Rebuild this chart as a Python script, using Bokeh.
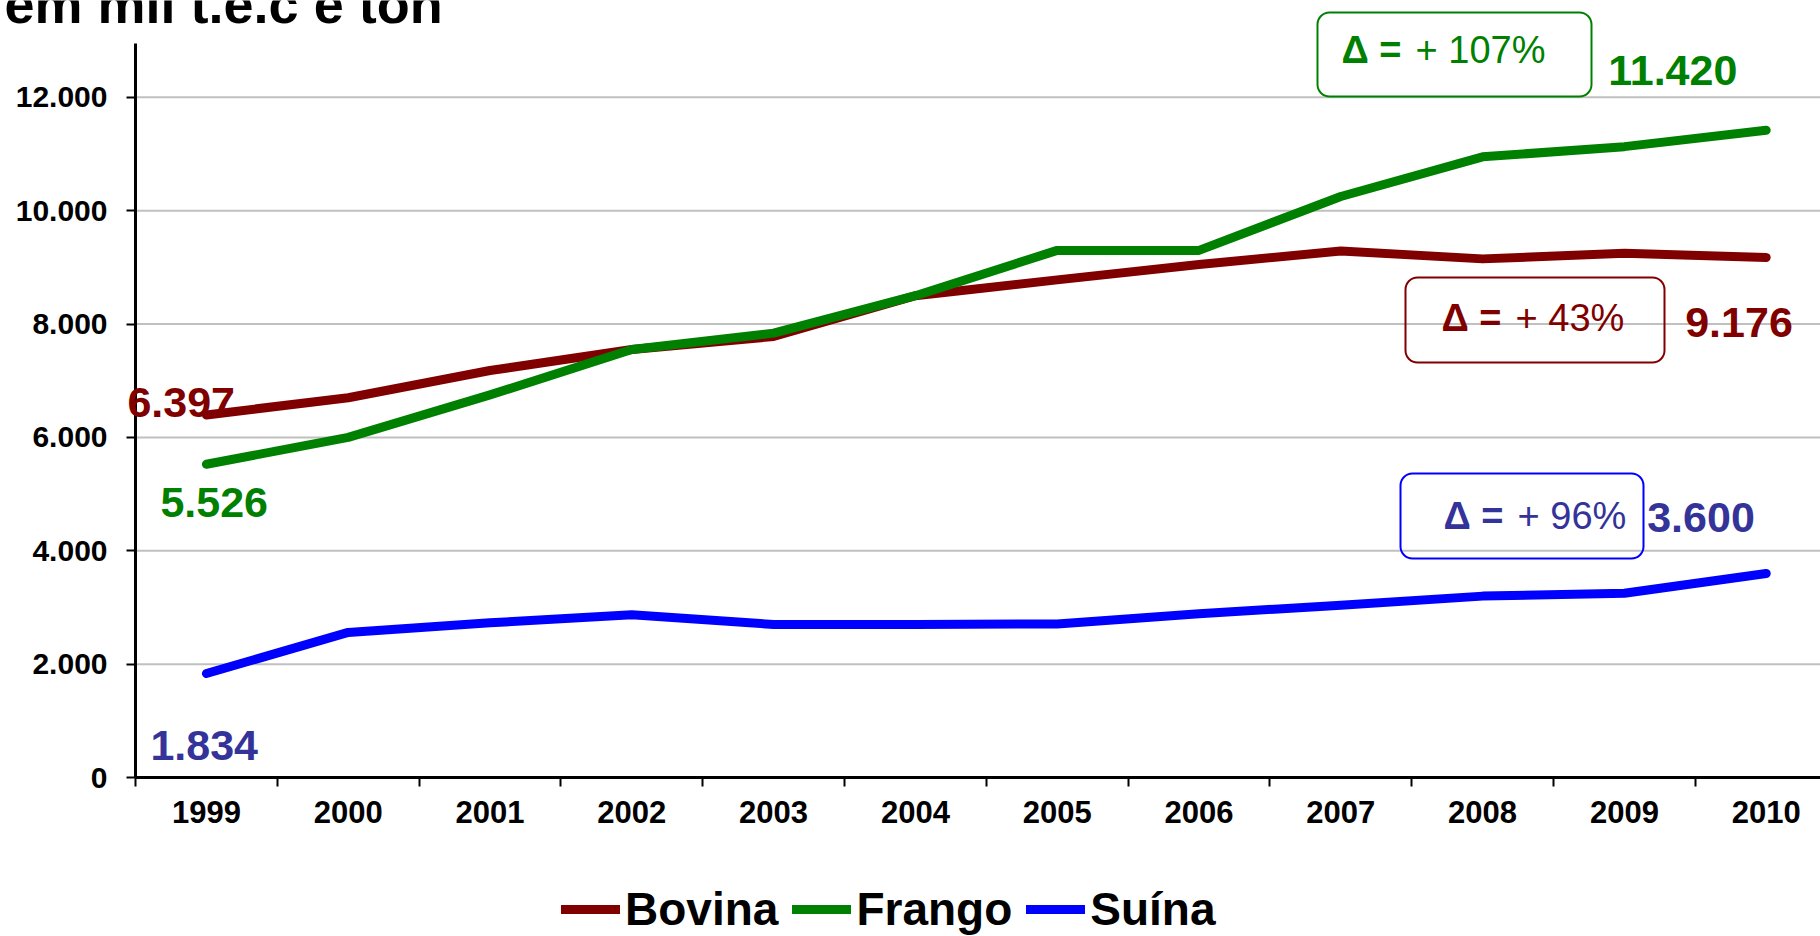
from bokeh.plotting import figure
from bokeh.models import (FixedTicker, Label, BoxAnnotation, Legend, LegendItem, Range1d)
from bokeh.embed import file_html
from bokeh.resources import INLINE

# ---------------- data ----------------
years = ["1999", "2000", "2001", "2002", "2003", "2004",
         "2005", "2006", "2007", "2008", "2009", "2010"]
bovina = [6397, 6700, 7180, 7550, 7780, 8500, 8780, 9050, 9290, 9150, 9250, 9176]
frango = [5526, 6000, 6750, 7550, 7840, 8500, 9300, 9300, 10250, 10950, 11130, 11420]
suina = [1834, 2560, 2730, 2870, 2700, 2700, 2710, 2890, 3040, 3200, 3250, 3600]
series_names = ["Bovina", "Frango", "Suína"]
y_ticks = [0, 2000, 4000, 6000, 8000, 10000, 12000]
title_text = "em mil t.e.c e ton"

# ---------------- layout (page pixels) ----------------
FONT = "Liberation Sans"
W, H = 1820, 936
AX_LEFT = 135        # page x of y-axis line
AX_BOTTOM = 777      # page y of x-axis line
AX_TOP = 43          # page y of top of y-axis line
PX_X = 141.8                # pixels per category
PX_Y = 113.36 / 2000.0      # pixels per unit


def px2x(px):
    return -0.5 + (px - AX_LEFT) / PX_X


def px2y(py):
    return (AX_BOTTOM - py) / PX_Y


def fmt(v):
    return f"{v:,}".replace(",", ".")


idx = list(range(len(years)))
X_START, X_END = px2x(0), px2x(W)
Y_START, Y_END = px2y(H), px2y(0)

p = figure(width=W, height=H, x_range=Range1d(X_START, X_END), y_range=Range1d(Y_START, Y_END),
           output_backend="svg", toolbar_location=None,
           min_border_left=0, min_border_right=0, min_border_top=0, min_border_bottom=0)
p.outline_line_color = None
p.background_fill_color = "white"
p.border_fill_color = "white"
p.xgrid.visible = False
p.ygrid.visible = False

colors = ["#800000", "#008000", "#0000FF"]
label_colors = ["#800000", "#008000", "#333399"]
series = [bovina, frango, suina]

# horizontal gridlines from the axis to the right edge
grid_ticks = y_ticks[1:]
p.segment(x0=[-0.5] * len(grid_ticks), x1=[X_END] * len(grid_ticks),
          y0=grid_ticks, y1=grid_ticks, line_color="#C0C0C0", line_width=2)

renderers = []
for s, c in zip(series, colors):
    renderers.append(p.line(idx, s, line_color=c, line_width=9, line_join="round", line_cap="round"))

# axes (drawn at fixed locations inside the frame)
xa = p.xaxis[0]
xa.fixed_location = 0
xa.bounds = (-0.5, X_END)
xa.ticker = FixedTicker(ticks=idx, minor_ticks=[i - 0.5 for i in range(len(years) + 1)])
xa.major_label_overrides = {i: y for i, y in zip(idx, years)}
xa.major_tick_out = 0
xa.major_tick_in = 0
xa.minor_tick_out = 9
xa.minor_tick_in = 0
xa.minor_tick_line_width = 2
xa.minor_tick_line_color = "black"
xa.axis_line_width = 3
xa.axis_line_color = "black"
xa.major_label_text_font = FONT
xa.major_label_text_font_style = "bold"
xa.major_label_text_font_size = "31px"
xa.major_label_text_color = "black"
xa.major_label_standoff = 14

ya = p.yaxis[0]
ya.fixed_location = -0.5
ya.bounds = (0, px2y(AX_TOP))
ya.ticker = FixedTicker(ticks=y_ticks, minor_ticks=[])
ya.major_label_overrides = {v: fmt(v) for v in y_ticks}
ya.major_tick_out = 9
ya.major_tick_in = 0
ya.major_tick_line_width = 2
ya.major_tick_line_color = "black"
ya.axis_line_width = 3
ya.axis_line_color = "black"
ya.major_label_text_font = FONT
ya.major_label_text_font_style = "bold"
ya.major_label_text_font_size = "30px"
ya.major_label_text_color = "black"
ya.major_label_standoff = 19

# title text (cut at top)
p.add_layout(Label(x=px2x(4), y=px2y(3), text=title_text, text_font=FONT,
                   text_font_style="bold", text_font_size="54px", text_color="black",
                   text_align="left", text_baseline="alphabetic"))

# value labels at first and last points
first_offsets = [(-79, 12), (-46, -38), (-56, -72)]
last_offsets = [(-81, -65), (-158, 60), (-119, 56)]
for s, c, fo, lo in zip(series, label_colors, first_offsets, last_offsets):
    p.add_layout(Label(x=idx[0], y=s[0], x_offset=fo[0], y_offset=fo[1], text=fmt(s[0]),
                       text_font=FONT, text_font_style="bold", text_font_size="43px",
                       text_color=c, text_align="left", text_baseline="middle"))
    p.add_layout(Label(x=idx[-1], y=s[-1], x_offset=lo[0], y_offset=lo[1], text=fmt(s[-1]),
                       text_font=FONT, text_font_style="bold", text_font_size="43px",
                       text_color=c, text_align="left", text_baseline="middle"))

# delta boxes (page pixel layout)
boxes = [  # bovina, frango, suina : (left, right, top, bottom, text_left, text_cy)
    (1405, 1664, 277, 362, 1441, 317),
    (1317, 1591, 12, 96, 1341, 49),
    (1400, 1643, 473, 558, 1443, 515),
]
border_colors = ["#800000", "#008000", "#0000FF"]
for s, bc, tc, b in zip(series, border_colors, label_colors, boxes):
    pct = round((s[-1] / s[0] - 1) * 100)
    p.add_layout(BoxAnnotation(left=px2x(b[0]), right=px2x(b[1]), top=px2y(b[2]),
                               bottom=px2y(b[3]), fill_alpha=0, line_color=bc,
                               line_alpha=1, line_width=2, border_radius=12))
    p.add_layout(Label(x=px2x(b[4]), y=px2y(b[5]), text="Δ =", text_font=FONT,
                       text_font_style="bold", text_font_size="38px", text_color=tc,
                       text_align="left", text_baseline="middle"))
    p.add_layout(Label(x=px2x(b[4] + 74), y=px2y(b[5]), text=f"+ {pct}%", text_font=FONT,
                       text_font_style="normal", text_font_size="38px", text_color=tc,
                       text_align="left", text_baseline="middle"))

legend = Legend(items=[LegendItem(label=n, renderers=[r]) for n, r in zip(series_names, renderers)],
                location=(561, 0), orientation="horizontal",
                padding=0, margin=0, spacing=14, label_standoff=5,
                glyph_width=59, glyph_height=40,
                border_line_alpha=0, background_fill_alpha=0,
                label_text_font=FONT, label_text_font_style="bold",
                label_text_font_size="46px", label_text_color="black")
p.add_layout(legend)

open("out.html", "w").write(file_html(p, INLINE))
